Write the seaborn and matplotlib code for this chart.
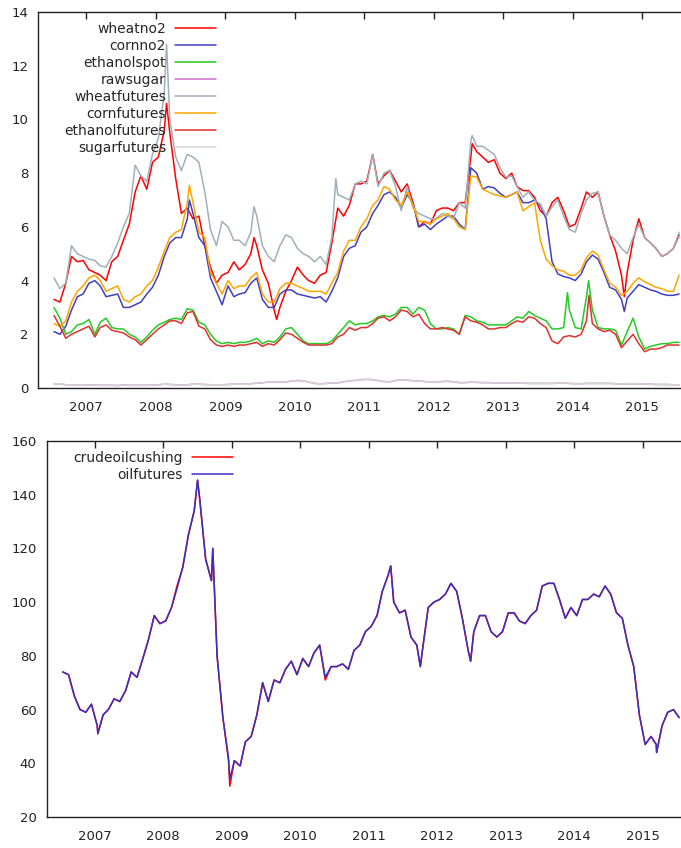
import pandas as pd
import numpy as np
import seaborn as sns
import matplotlib.dates as mdates
from matplotlib import pyplot as plt

# monthly readings (mid-month), Jul 2006 .. Jul 2015
months = pd.date_range("2006-07-01", "2015-07-01", freq="MS") + pd.Timedelta(days=14)

wheatno2 = [3.3, 3.2, 3.9, 4.9, 4.7, 4.75,
            4.4, 4.3, 4.2, 4.0, 4.7, 4.9, 5.5, 6.1, 7.3, 7.9, 7.4, 8.4,
            8.6, 9.6, 9.5, 7.8, 6.5, 6.7, 6.3, 6.4, 5.3, 4.5, 3.9, 4.2,
            4.3, 4.7, 4.4, 4.6, 5.0, 5.3, 4.4, 3.9, 2.9, 3.0, 3.6, 4.0,
            4.5, 4.2, 4.0, 3.9, 4.2, 4.3, 5.4, 6.7, 6.4, 6.8, 7.6, 7.6,
            7.7, 8.7, 7.6, 7.9, 8.1, 7.7, 7.3, 7.6, 6.9, 6.0, 6.2, 6.1,
            6.6, 6.7, 6.7, 6.6, 6.9, 6.9, 8.6, 8.8, 8.6, 8.4, 8.5, 8.0,
            7.8, 8.0, 7.5, 7.35, 7.35, 7.1, 6.6, 6.4, 6.9, 7.1, 6.6, 6.0,
            6.1, 6.7, 7.3, 7.1, 7.3, 6.4, 5.7, 5.1, 4.2, 4.3, 5.5, 6.3,
            5.6, 5.4, 5.2, 4.9, 5.0, 5.2, 5.7]
cornno2 = [2.1, 2.0, 2.3, 2.9, 3.4, 3.5,
           3.9, 4.0, 3.8, 3.4, 3.45, 3.5, 3.0, 3.0, 3.1, 3.2, 3.5, 3.75,
           4.2, 4.9, 5.4, 5.6, 5.6, 6.3, 6.5, 5.6, 5.3, 4.1, 3.6, 3.1,
           3.8, 3.4, 3.5, 3.55, 3.9, 4.1, 3.3, 3.0, 3.0, 3.5, 3.65, 3.65,
           3.5, 3.45, 3.4, 3.35, 3.4, 3.2, 3.6, 4.1, 4.9, 5.2, 5.3, 5.8,
           6.0, 6.5, 6.8, 7.2, 7.3, 7.1, 6.7, 7.2, 6.9, 6.0, 6.1, 5.9,
           6.1, 6.25, 6.4, 6.4, 6.1, 5.9, 8.2, 8.0, 7.4, 7.5, 7.45, 7.25,
           7.1, 7.2, 7.3, 6.9, 6.9, 7.0, 6.8, 6.3, 4.7, 4.25, 4.15, 4.1,
           4.0, 4.25, 4.7, 4.95, 4.8, 4.3, 3.75, 3.65, 3.3, 3.35, 3.6, 3.85,
           3.75, 3.65, 3.6, 3.5, 3.45, 3.45, 3.5]
ethanolspot = [3.0, 2.6, 2.0, 2.1, 2.35, 2.4,
               2.55, 2.0, 2.45, 2.6, 2.25, 2.2, 2.2, 2.0, 1.9, 1.7, 1.9, 2.15,
               2.35, 2.45, 2.55, 2.6, 2.55, 2.95, 2.9, 2.45, 2.35, 2.0, 1.75, 1.65,
               1.7, 1.65, 1.7, 1.7, 1.75, 1.85, 1.65, 1.75, 1.7, 1.9, 2.2, 2.25,
               2.0, 1.75, 1.65, 1.65, 1.65, 1.65, 1.75, 2.0, 2.25, 2.5, 2.35, 2.4,
               2.4, 2.5, 2.65, 2.7, 2.65, 2.75, 3.0, 3.0, 2.75, 3.0, 2.9, 2.4,
               2.2, 2.2, 2.25, 2.2, 2.0, 2.7, 2.65, 2.5, 2.45, 2.35, 2.35, 2.35,
               2.35, 2.5, 2.65, 2.6, 2.85, 2.7, 2.6, 2.5, 2.2, 2.2, 2.25, 2.9,
               2.25, 2.2, 3.4, 2.9, 2.25, 2.2, 2.2, 2.15, 1.6, 2.1, 2.6, 1.9,
               1.45, 1.55, 1.6, 1.65, 1.65, 1.7, 1.7]
rawsugar = [0.16, 0.15, 0.12, 0.12, 0.12, 0.12,
            0.11, 0.11, 0.10, 0.10, 0.10, 0.09, 0.11, 0.10, 0.10, 0.10, 0.10, 0.11,
            0.12, 0.14, 0.13, 0.12, 0.11, 0.12, 0.14, 0.14, 0.13, 0.12, 0.12, 0.12,
            0.13, 0.14, 0.14, 0.14, 0.16, 0.18, 0.19, 0.23, 0.23, 0.23, 0.22, 0.26,
            0.28, 0.27, 0.22, 0.17, 0.16, 0.17, 0.19, 0.19, 0.23, 0.27, 0.28, 0.31,
            0.32, 0.31, 0.28, 0.24, 0.23, 0.28, 0.30, 0.29, 0.27, 0.26, 0.24, 0.23,
            0.23, 0.24, 0.25, 0.23, 0.20, 0.20, 0.22, 0.21, 0.20, 0.20, 0.19, 0.19,
            0.18, 0.18, 0.18, 0.18, 0.17, 0.17, 0.17, 0.17, 0.17, 0.18, 0.18, 0.17,
            0.16, 0.16, 0.17, 0.17, 0.17, 0.17, 0.17, 0.16, 0.15, 0.16, 0.16, 0.15,
            0.15, 0.14, 0.13, 0.13, 0.13, 0.12, 0.12]
wheatfutures = [4.1, 3.7, 3.9, 5.3, 5.0, 4.9,
                4.8, 4.75, 4.55, 4.5, 4.9, 5.4, 6.0, 6.5, 8.3, 7.9, 7.7, 8.7,
                9.3, 11.0, 10.0, 8.6, 8.1, 8.7, 8.6, 8.4, 7.3, 5.9, 5.3, 6.2,
                6.0, 5.5, 5.5, 5.3, 5.8, 6.4, 5.3, 4.9, 4.7, 5.3, 5.7, 5.6,
                5.2, 5.0, 4.9, 4.7, 4.9, 4.6, 5.6, 7.2, 7.1, 7.0, 7.6, 7.7,
                7.6, 8.7, 7.5, 8.0, 8.1, 7.5, 6.6, 7.5, 6.7, 6.5, 6.4, 6.3,
                6.3, 6.5, 6.4, 6.3, 6.9, 6.7, 9.2, 9.0, 9.0, 8.85, 8.7, 8.2,
                7.85, 7.9, 7.5, 7.1, 7.3, 7.0, 6.85, 6.4, 6.75, 7.0, 6.4, 5.9,
                5.8, 6.5, 7.0, 7.25, 7.3, 6.4, 5.7, 5.5, 5.2, 5.0, 5.6, 6.1,
                5.6, 5.4, 5.2, 4.9, 5.0, 5.2, 5.8]
cornfutures = [2.4, 2.3, 2.5, 3.2, 3.6, 3.8,
               4.1, 4.2, 4.0, 3.6, 3.7, 3.8, 3.3, 3.2, 3.4, 3.5, 3.8, 4.0,
               4.5, 5.1, 5.6, 5.8, 5.9, 6.9, 6.9, 5.8, 5.6, 4.3, 3.9, 3.5,
               4.0, 3.7, 3.8, 3.8, 4.1, 4.3, 3.5, 3.2, 3.2, 3.7, 3.9, 3.9,
               3.8, 3.7, 3.6, 3.6, 3.6, 3.5, 3.9, 4.3, 5.1, 5.5, 5.5, 6.0,
               6.3, 6.8, 7.0, 7.5, 7.4, 7.0, 6.8, 7.3, 6.8, 6.2, 6.2, 6.1,
               6.3, 6.4, 6.5, 6.3, 6.0, 5.9, 7.9, 7.85, 7.4, 7.3, 7.2, 7.15,
               7.1, 7.2, 7.3, 6.6, 6.75, 6.9, 5.5, 4.8, 4.55, 4.4, 4.35, 4.2,
               4.2, 4.4, 4.85, 5.1, 4.95, 4.4, 3.9, 3.75, 3.45, 3.6, 3.9, 4.1,
               3.95, 3.85, 3.75, 3.7, 3.6, 3.6, 4.2]
ethanolfutures = [2.7, 2.3, 1.85, 2.0, 2.1, 2.2,
                  2.3, 1.9, 2.25, 2.35, 2.15, 2.1, 2.05, 1.9, 1.8, 1.6, 1.8, 2.0,
                  2.2, 2.35, 2.5, 2.5, 2.4, 2.8, 2.85, 2.3, 2.2, 1.8, 1.6, 1.55,
                  1.6, 1.55, 1.6, 1.6, 1.65, 1.7, 1.55, 1.65, 1.6, 1.8, 2.05, 2.0,
                  1.85, 1.7, 1.6, 1.6, 1.6, 1.6, 1.65, 1.9, 2.0, 2.25, 2.15, 2.25,
                  2.25, 2.4, 2.6, 2.65, 2.5, 2.65, 2.9, 2.85, 2.65, 2.75, 2.4, 2.2,
                  2.2, 2.25, 2.2, 2.15, 2.0, 2.65, 2.5, 2.45, 2.35, 2.2, 2.2, 2.25,
                  2.25, 2.4, 2.5, 2.45, 2.65, 2.6, 2.4, 2.25, 1.75, 1.65, 1.9, 1.95,
                  1.9, 2.0, 2.5, 2.4, 2.2, 2.1, 2.15, 2.0, 1.5, 1.75, 2.0, 1.65,
                  1.35, 1.45, 1.45, 1.5, 1.6, 1.6, 1.6]
sugarfutures = [0.16, 0.15, 0.12, 0.12, 0.12, 0.12,
                0.11, 0.11, 0.10, 0.10, 0.10, 0.10, 0.11, 0.10, 0.10, 0.10, 0.10, 0.11,
                0.12, 0.14, 0.13, 0.12, 0.11, 0.12, 0.14, 0.14, 0.13, 0.12, 0.12, 0.12,
                0.13, 0.14, 0.14, 0.14, 0.16, 0.18, 0.19, 0.23, 0.23, 0.23, 0.22, 0.26,
                0.28, 0.27, 0.22, 0.17, 0.16, 0.17, 0.19, 0.19, 0.23, 0.27, 0.28, 0.31,
                0.32, 0.31, 0.28, 0.24, 0.23, 0.28, 0.30, 0.29, 0.27, 0.26, 0.24, 0.23,
                0.23, 0.24, 0.25, 0.23, 0.20, 0.20, 0.22, 0.21, 0.20, 0.20, 0.19, 0.19,
                0.18, 0.18, 0.18, 0.18, 0.17, 0.17, 0.17, 0.17, 0.17, 0.18, 0.18, 0.17,
                0.16, 0.16, 0.17, 0.17, 0.17, 0.17, 0.17, 0.16, 0.15, 0.16, 0.16, 0.15,
                0.15, 0.14, 0.13, 0.13, 0.13, 0.12, 0.12]

oilfutures = [74, 73, 65, 60, 59, 62,
              54, 58, 60, 64, 63, 67, 74, 72, 79, 86, 95, 92,
              93, 98, 105, 113, 125, 134, 138, 116, 108, 80, 57, 42,
              41, 39, 48, 50, 58, 70, 63, 71, 70, 75, 78, 73,
              79, 76, 81, 84, 72, 76, 76, 77, 75, 82, 84, 89,
              91, 95, 104, 110, 100, 96, 97, 87, 84, 82, 98, 100,
              101, 103, 107, 104, 94, 82, 89, 95, 95, 89, 87, 89,
              96, 96, 93, 92, 95, 97, 106, 107, 107, 101, 94, 98,
              95, 101, 101, 103, 102, 106, 103, 96, 94, 84, 76, 58,
              47, 50, 47, 54, 59, 60, 57]
crudeoilcushing = [74, 73, 65, 60, 59, 62,
                   54, 58, 60, 64, 63, 67, 74, 72, 79, 86, 95, 92,
                   93, 98, 106, 113, 125, 134, 138, 116, 108, 80, 57, 41,
                   41, 39, 48, 50, 58, 70, 63, 71, 70, 75, 78, 73,
                   79, 76, 81, 84, 71, 76, 76, 77, 75, 82, 84, 89,
                   91, 95, 104, 110, 100, 96, 97, 87, 84, 82, 98, 100,
                   101, 103, 107, 104, 94, 82, 89, 95, 95, 89, 87, 89,
                   96, 96, 93, 92, 95, 97, 106, 107, 107, 101, 94, 98,
                   95, 101, 101, 103, 102, 106, 103, 96, 94, 84, 76, 58,
                   47, 50, 47, 54, 59, 60, 57]

# short-lived peaks/dips that fall between monthly readings
spikes = {
    "wheatno2": [("2008-02-27", 10.6), ("2009-06-01", 5.6), ("2009-09-28", 2.55),
                 ("2012-07-22", 9.1), ("2014-09-30", 3.4)],
    "cornno2": [("2008-06-26", 7.0), ("2014-09-30", 2.85)],
    "ethanolspot": [("2013-12-05", 3.55), ("2014-03-26", 4.0)],
    "wheatfutures": [("2008-02-27", 12.8), ("2009-06-01", 6.75), ("2010-08-05", 7.8),
                     ("2012-07-22", 9.4)],
    "cornfutures": [("2008-06-26", 7.55)],
    "ethanolfutures": [("2014-03-28", 3.45)],
    "oilfutures": [("2007-01-18", 51), ("2008-07-03", 145.5), ("2008-09-22", 120),
                   ("2008-12-22", 34), ("2011-04-29", 113.5), ("2011-10-04", 76),
                   ("2012-06-28", 78), ("2015-03-17", 44)],
    "crudeoilcushing": [("2007-01-18", 51), ("2008-07-03", 145.3), ("2008-09-22", 120),
                        ("2008-12-22", 31.5), ("2011-04-29", 113.5), ("2011-10-04", 76),
                        ("2012-06-28", 78), ("2015-03-17", 44)],
}

top_names = ["wheatno2", "cornno2", "ethanolspot", "rawsugar",
             "wheatfutures", "cornfutures", "ethanolfutures", "sugarfutures"]
top_values = [wheatno2, cornno2, ethanolspot, rawsugar,
              wheatfutures, cornfutures, ethanolfutures, sugarfutures]
top_colors = ["#ff0000", "#4040c0", "#22cc22", "#d070d0",
              "#a0b0b8", "#ffa500", "#e03030", "#d4d4d4"]

bottom_names = ["crudeoilcushing", "oilfutures"]
bottom_values = [crudeoilcushing, oilfutures]
bottom_colors = ["#ff0000", "#3a30c0"]


def long_frame(names, values):
    frames = []
    for name, vals in zip(names, values):
        d = pd.DataFrame({"date": months, "value": vals})
        extra = spikes.get(name, [])
        if extra:
            e = pd.DataFrame(extra, columns=["date", "value"])
            e["date"] = pd.to_datetime(e["date"])
            d = pd.concat([d, e])
        d = d.sort_values("date")
        d["series"] = name
        frames.append(d)
    return pd.concat(frames, ignore_index=True)


def style_axis(ax, ymin, ymax, ystep, ypad):
    ax.set_xlim(pd.Timestamp("2006-04-22"), pd.Timestamp("2015-07-25"))
    ax.set_ylim(ymin, ymax)
    ax.set_yticks(np.arange(ymin, ymax + 1, ystep))
    ax.xaxis.set_major_locator(mdates.YearLocator())
    ax.xaxis.set_major_formatter(mdates.DateFormatter("%Y"))
    ax.tick_params(axis="x", direction="in", top=True, length=5, width=1,
                   pad=9.5, labelsize=9.5, colors="#222222")
    # gnuplot-like y tics crossing the border
    ax.tick_params(axis="y", direction="inout", right=False, length=9, width=1,
                   pad=ypad, labelsize=9.5, colors="#222222")
    ax.spines["right"].set_visible(False)
    for s in ["left", "top", "bottom"]:
        ax.spines[s].set_color("#222222")
        ax.spines[s].set_linewidth(1.0)
    ax.set_xlabel("")
    ax.set_ylabel("")


sns.set_style("white")
plt.rcParams["font.family"] = ["DejaVu Sans"]

fig = plt.figure(figsize=(6.81, 8.48), dpi=100)
ax1 = fig.add_axes([38 / 681, 460 / 848, 643 / 681, 376 / 848])
ax2 = fig.add_axes([47 / 681, 31 / 848, 634 / 681, 376 / 848])

top_df = long_frame(top_names, top_values)
sns.lineplot(data=top_df, x="date", y="value", hue="series", hue_order=top_names,
             palette=top_colors, estimator=None, linewidth=1.1, legend=False, ax=ax1)
style_axis(ax1, 0, 14, 2, 2.5)
ax1.legend(ax1.lines, top_names, loc="upper right", bbox_to_anchor=(0.277, 0.974),
           markerfirst=False, frameon=False, fontsize=10, handlelength=2.95,
           handletextpad=0.65, labelspacing=0.22, borderpad=0, borderaxespad=0)

bottom_df = long_frame(bottom_names, bottom_values)
sns.lineplot(data=bottom_df, x="date", y="value", hue="series", hue_order=bottom_names,
             palette=bottom_colors, estimator=None, linewidth=1.1, legend=False, ax=ax2)
style_axis(ax2, 20, 160, 20, 3)
ax2.legend(ax2.lines, bottom_names, loc="upper right", bbox_to_anchor=(0.293, 0.974),
           markerfirst=False, frameon=False, fontsize=10, handlelength=2.95,
           handletextpad=0.65, labelspacing=0.22, borderpad=0, borderaxespad=0)

fig.savefig("out.png", dpi=100)
